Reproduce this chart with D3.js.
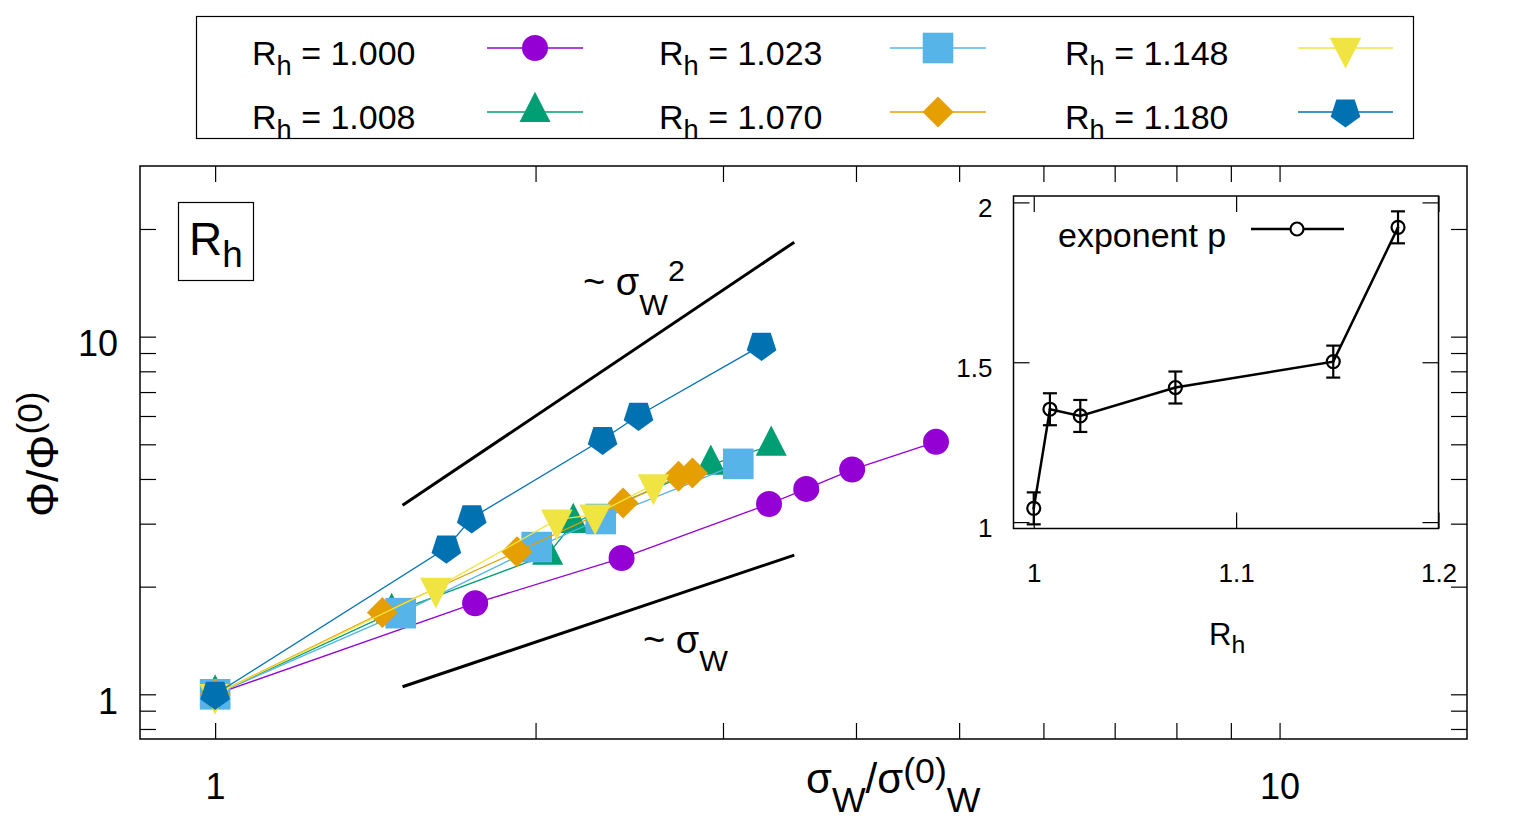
<!DOCTYPE html>
<html>
<head>
<meta charset="utf-8">
<script src="https://cdn.jsdelivr.net/npm/d3@7"></script>
<style>
  body { margin: 0; background: #fff; }
  svg { display: block; font-family: "Liberation Sans", Arial, Helvetica, sans-serif; }
  text { white-space: pre; }
</style>
</head>
<body>
<script>
// ---- data ----
const rhLabels = ['1.000', '1.008', '1.023', '1.070', '1.148', '1.180'];
const rhColors = ['#9400d3', '#009e73', '#56b4e9', '#e69f00', '#f0e442', '#0072b2'];
const rhShapes = ['circle', 'triangle', 'square', 'diamond', 'triangleDown', 'pentagon'];

const sigma1000 = [1, 1.755, 2.409, 3.314, 3.592, 3.967, 4.756];
const phi1000   = [1, 1.798, 2.404, 3.405, 3.752, 4.25, 5.08];
const sigma1008 = [1, 1.465, 2.053, 2.17, 2.922, 3.33];
const phi1008   = [1, 1.69, 2.456, 3.013, 4.388, 4.96];
const sigma1023 = [1, 1.494, 2.005, 2.303, 3.101];
const phi1023   = [1, 1.686, 2.58, 3.091, 4.409];
const sigma1070 = [1, 1.436, 1.921, 2.417, 2.725, 2.808];
const phi1070   = [1, 1.693, 2.504, 3.428, 4.07, 4.16];
const sigma1148 = [1, 1.612, 2.094, 2.275, 2.581];
const phi1148   = [1, 1.982, 3.077, 3.178, 3.858];
const sigma1180 = [1, 1.649, 1.742, 2.312, 2.499, 3.261];
const phi1180   = [1, 2.564, 3.112, 5.157, 6.02, 9.455];

// guide lines ~ sigma^2 and ~ sigma
const guideX      = [1.5, 3.5];
const guideSquare = [3.375, 18.375];
const guideLinear = [1.05, 2.45];

// inset: exponent p vs R_h
const rhValues    = [1.000, 1.008, 1.023, 1.070, 1.148, 1.180];
const exponentP   = [1.043, 1.353, 1.332, 1.421, 1.502, 1.922];
const exponentErr = [0.05, 0.05, 0.05, 0.05, 0.05, 0.05];

const xTicks = [1, 2, 3, 4, 5, 6, 7, 8, 9, 10];
const yTicks = [0.8, 0.9, 1, 2, 3, 4, 5, 6, 7, 8, 9, 10, 20];
const insetXTicks = [1, 1.1, 1.2];
const insetYTicks = [1, 1.5, 2];

const sigmaSets = [sigma1000, sigma1008, sigma1023, sigma1070, sigma1148, sigma1180];
const phiSets = [phi1000, phi1008, phi1023, phi1070, phi1148, phi1180];

// ---- layout ----
const svg = d3.select('body').append('svg').attr('width', 1536).attr('height', 819);
const frame = { left: 140, top: 166, right: 1467, bottom: 739 };

const x = d3.scaleLog().domain([0.85, 15]).range([frame.left, frame.right]);
const y = d3.scaleLog().domain([0.75, 30]).range([frame.bottom, frame.top]);

// custom marker shapes for d3.symbol (size = half-width in px)
const shapes = {
  circle: { draw(c, s) { c.moveTo(s, 0); c.arc(0, 0, s, 0, 2 * Math.PI); } },
  square: { draw(c, s) { c.rect(-s, -s, 2 * s, 2 * s); } },
  diamond: { draw(c, s) { c.moveTo(0, -s); c.lineTo(s, 0); c.lineTo(0, s); c.lineTo(-s, 0); c.closePath(); } },
  triangle: { draw(c, s) { c.moveTo(0, -1.3 * s); c.lineTo(s, 0.65 * s); c.lineTo(-s, 0.65 * s); c.closePath(); } },
  triangleDown: { draw(c, s) { c.moveTo(0, 1.3 * s); c.lineTo(s, -0.65 * s); c.lineTo(-s, -0.65 * s); c.closePath(); } },
  pentagon: { draw(c, s) {
    for (let i = 0; i < 5; i++) {
      const a = Math.PI / 2 + i * 2 * Math.PI / 5;
      const px = s * Math.cos(a), py = s * Math.sin(a);
      i ? c.lineTo(px, py) : c.moveTo(px, py);
    }
    c.closePath();
  } }
};
const shapeSize = { circle: 13, square: 15.3, diamond: 15.5, triangle: 15.5, triangleDown: 15.8, pentagon: 15.6 };
const marker = name => d3.symbol().type(shapes[name]).size(shapeSize[name])();

// enhanced text helper: parts = [[text, '' | 'sub' | 'sup'], ...]
function rich(sel, parts, size, subShift, supShift, small = 0.8) {
  let cur = 0;
  parts.forEach(([t, k]) => {
    const target = k === 'sub' ? subShift : k === 'sup' ? -supShift : 0;
    sel.append('tspan')
      .attr('dy', target - cur)
      .attr('font-size', k ? size * small : size)
      .text(t);
    cur = target;
  });
  return sel;
}

// ---- main plot axes (ticks point inward) ----
function styleAxis(g) {
  g.select('.domain').remove();
  g.selectAll('line').attr('stroke', '#000').attr('stroke-width', 1.2);
  g.attr('font-family', null).attr('font-size', 36).selectAll('text').attr('fill', '#000');
}
const mainLabel = d => (d === 1 || d === 10) ? d : '';

svg.append('g').attr('transform', `translate(0,${frame.bottom})`)
  .call(d3.axisBottom(x).tickValues(xTicks).tickSizeInner(-16).tickSizeOuter(0).tickPadding(34).tickFormat(mainLabel))
  .call(styleAxis);
svg.append('g').attr('transform', `translate(0,${frame.top})`)
  .call(d3.axisTop(x).tickValues(xTicks).tickSizeInner(-16).tickSizeOuter(0).tickFormat(''))
  .call(styleAxis);
svg.append('g').attr('transform', `translate(${frame.left},0)`)
  .call(d3.axisLeft(y).tickValues(yTicks).tickSizeInner(-16).tickSizeOuter(0).tickPadding(22).tickFormat(mainLabel))
  .call(styleAxis)
  .selectAll('text').attr('dy', '0.52em');
svg.append('g').attr('transform', `translate(${frame.right},0)`)
  .call(d3.axisRight(y).tickValues(yTicks).tickSizeInner(-16).tickSizeOuter(0).tickFormat(''))
  .call(styleAxis);

svg.append('rect')
  .attr('x', frame.left).attr('y', frame.top)
  .attr('width', frame.right - frame.left).attr('height', frame.bottom - frame.top)
  .attr('fill', 'none').attr('stroke', '#000').attr('stroke-width', 1.5);

// axis titles
rich(svg.append('text').attr('x', 806).attr('y', 793),
  [['σ', ''], ['W', 'sub'], ['/σ', ''], ['(0)', 'sup'], ['W', 'sub']], 42, 19, 10, 0.85);
rich(svg.append('text').attr('transform', 'translate(58,517) rotate(-90)'),
  [['Φ/Φ', ''], ['(0)', 'sup']], 44, 20, 16);

// guide lines
const lineGen = d3.line().x(d => x(d[0])).y(d => y(d[1]));
svg.append('path').attr('d', lineGen(d3.zip(guideX, guideSquare)))
  .attr('fill', 'none').attr('stroke', '#000').attr('stroke-width', 3);
svg.append('path').attr('d', lineGen(d3.zip(guideX, guideLinear)))
  .attr('fill', 'none').attr('stroke', '#000').attr('stroke-width', 3);

rich(svg.append('text').attr('x', 583).attr('y', 295),
  [['~ σ', ''], ['W', 'sub'], ['2', 'sup']], 38, 20, 14);
rich(svg.append('text').attr('x', 643).attr('y', 653),
  [['~ σ', ''], ['W', 'sub']], 38, 18, 0);

// R_h box label
svg.append('rect').attr('x', 178.5).attr('y', 202.5).attr('width', 75).attr('height', 78)
  .attr('fill', 'none').attr('stroke', '#000').attr('stroke-width', 1.2);
rich(svg.append('text').attr('x', 189).attr('y', 255),
  [['R', ''], ['h', 'sub']], 46, 12, 0);

// data series
sigmaSets.forEach((xs, i) => {
  const pts = d3.zip(xs, phiSets[i]);
  const g = svg.append('g');
  g.append('path').attr('d', lineGen(pts))
    .attr('fill', 'none').attr('stroke', rhColors[i]).attr('stroke-width', 1.3);
  g.selectAll('path.pt').data(pts).join('path').attr('class', 'pt')
    .attr('transform', d => `translate(${x(d[0])},${y(d[1])})`)
    .attr('d', marker(rhShapes[i]))
    .attr('fill', rhColors[i]);
});

// ---- legend ----
const legend = svg.append('g');
legend.append('rect').attr('x', 196.5).attr('y', 16.5).attr('width', 1217).attr('height', 122)
  .attr('fill', '#fff').attr('stroke', '#000').attr('stroke-width', 1.2);
const colText = [252, 659, 1065];
const colLine = [[487, 583], [890, 986], [1298, 1393]];
const rowY = [48, 112];
rhLabels.forEach((lab, i) => {
  const c = Math.floor(i / 2), r = i % 2;
  rich(legend.append('text').attr('x', colText[c]).attr('y', rowY[r] + 17),
    [['R', ''], ['h', 'sub'], [' = ' + lab, '']], 34, 10, 0);
  legend.append('line').attr('x1', colLine[c][0]).attr('x2', colLine[c][1])
    .attr('y1', rowY[r]).attr('y2', rowY[r])
    .attr('stroke', rhColors[i]).attr('stroke-width', 1.3);
  legend.append('path')
    .attr('transform', `translate(${(colLine[c][0] + colLine[c][1]) / 2},${rowY[r]})`)
    .attr('d', marker(rhShapes[i])).attr('fill', rhColors[i]);
});

// ---- inset ----
const inset = { left: 1013.5, top: 196, right: 1438.5, bottom: 528.5 };
const xi = d3.scaleLinear().domain([0.99, 1.2]).range([inset.left, inset.right]);
const yi = d3.scaleLinear().domain([0.98, 2.02]).range([inset.bottom, inset.top]);

svg.append('rect').attr('x', inset.left).attr('y', inset.top)
  .attr('width', inset.right - inset.left).attr('height', inset.bottom - inset.top)
  .attr('fill', '#fff');

function styleInset(g) {
  g.select('.domain').remove();
  g.selectAll('line').attr('stroke', '#000').attr('stroke-width', 1.2);
  g.attr('font-family', null).attr('font-size', 26).selectAll('text').attr('fill', '#000');
}
svg.append('g').attr('transform', `translate(0,${inset.bottom})`)
  .call(d3.axisBottom(xi).tickValues(insetXTicks).tickSizeInner(-16).tickSizeOuter(0).tickPadding(35).tickFormat(d3.format('~g')))
  .call(styleInset);
svg.append('g').attr('transform', `translate(0,${inset.top})`)
  .call(d3.axisTop(xi).tickValues(insetXTicks).tickSizeInner(-16).tickSizeOuter(0).tickFormat(''))
  .call(styleInset);
svg.append('g').attr('transform', `translate(${inset.left},0)`)
  .call(d3.axisLeft(yi).tickValues(insetYTicks).tickSizeInner(-16).tickSizeOuter(0).tickPadding(21).tickFormat(d3.format('~g')))
  .call(styleInset)
  .selectAll('text').attr('dy', '0.54em');
svg.append('g').attr('transform', `translate(${inset.right},0)`)
  .call(d3.axisRight(yi).tickValues(insetYTicks).tickSizeInner(-16).tickSizeOuter(0).tickFormat(''))
  .call(styleInset);

svg.append('rect').attr('x', inset.left).attr('y', inset.top)
  .attr('width', inset.right - inset.left).attr('height', inset.bottom - inset.top)
  .attr('fill', 'none').attr('stroke', '#000').attr('stroke-width', 1.5);

rich(svg.append('text').attr('x', 1209).attr('y', 645),
  [['R', ''], ['h', 'sub']], 31, 8, 0);

const pData = d3.zip(rhValues, exponentP, exponentErr);
const lineI = d3.line().x(d => xi(d[0])).y(d => yi(d[1]));
svg.append('path').attr('d', lineI(pData))
  .attr('fill', 'none').attr('stroke', '#000').attr('stroke-width', 2.5);

const eb = svg.append('g').attr('stroke', '#000').attr('stroke-width', 2.2).attr('fill', 'none');
pData.forEach(d => {
  const cx = xi(d[0]);
  eb.append('line').attr('x1', cx).attr('x2', cx).attr('y1', yi(d[1] - d[2])).attr('y2', yi(d[1] + d[2]));
  eb.append('line').attr('x1', cx - 7).attr('x2', cx + 7).attr('y1', yi(d[1] - d[2])).attr('y2', yi(d[1] - d[2]));
  eb.append('line').attr('x1', cx - 7).attr('x2', cx + 7).attr('y1', yi(d[1] + d[2])).attr('y2', yi(d[1] + d[2]));
  eb.append('circle').attr('cx', cx).attr('cy', yi(d[1])).attr('r', 6.5).attr('fill', 'none');
  eb.append('circle').attr('cx', cx).attr('cy', yi(d[1])).attr('r', 1.2).attr('fill', '#000').attr('stroke', 'none');
});

// inset key
svg.append('text').attr('x', 1058).attr('y', 247).attr('font-size', 34).text('exponent p');
svg.append('line').attr('x1', 1251).attr('x2', 1344).attr('y1', 229).attr('y2', 229)
  .attr('stroke', '#000').attr('stroke-width', 2.5);
svg.append('circle').attr('cx', 1297).attr('cy', 229).attr('r', 6.5)
  .attr('fill', '#fff').attr('stroke', '#000').attr('stroke-width', 2.2);
</script>
</body>
</html>
